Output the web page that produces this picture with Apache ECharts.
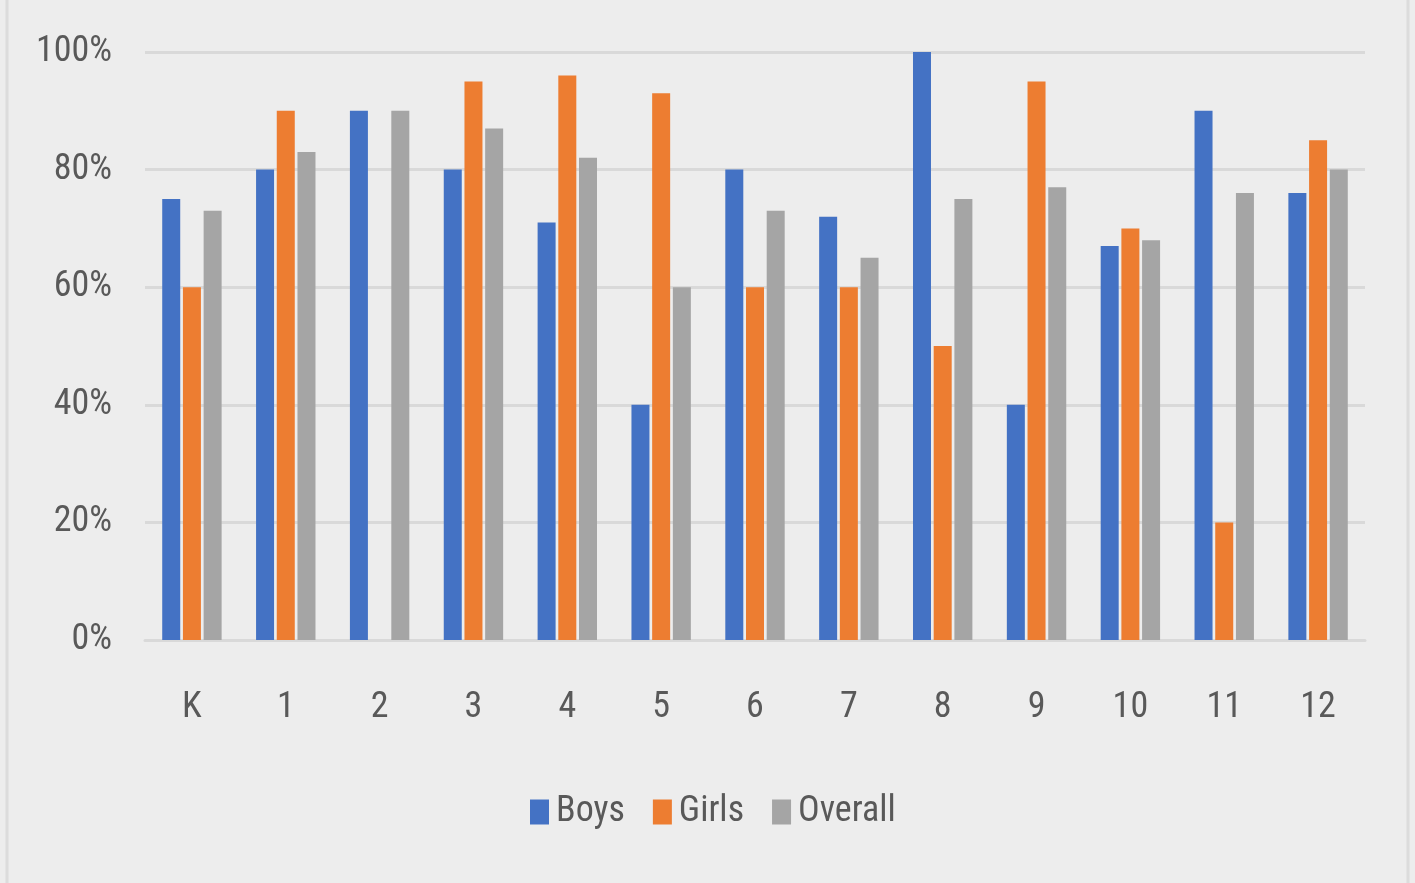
<!DOCTYPE html>
<html>
<head>
<meta charset="utf-8">
<script src="https://cdn.jsdelivr.net/npm/echarts@6/dist/echarts.min.js"></script>
<style>
  html, body { margin: 0; padding: 0; background: #ededed; }
  #chart { width: 1415px; height: 883px; }
</style>
</head>
<body>
<div id="chart"></div>
<script>
const grades = ["K", "1", "2", "3", "4", "5", "6", "7", "8", "9", "10", "11", "12"];
const boys = [75, 80, 90, 80, 71, 40, 80, 72, 100, 40, 67, 90, 76];
const girls = [60, 90, 0, 95, 96, 93, 60, 60, 50, 95, 70, 20, 85];
const overall = [73, 83, 90, 87, 82, 60, 73, 65, 75, 77, 68, 76, 80];

const font = '"Liberation Sans Narrow", "Roboto Condensed", "DejaVu Sans Condensed", sans-serif';

let chart = echarts.init(document.getElementById("chart"));
chart.setOption({
  backgroundColor: "#ededed",
  textStyle: { fontFamily: font },
  graphic: [
    {
      // image frame
      type: "rect",
      shape: { x: 7, y: -2, width: 1401, height: 887 },
      style: { fill: "none", stroke: "#dcdcdc", lineWidth: 3 }
    }
  ],
  legend: {
    bottom: 48,
    left: 525,
    icon: "rect",
    itemWidth: 19,
    itemHeight: 25,
    itemGap: 28,
    textStyle: { fontFamily: font, fontSize: 36, color: "#595959", padding: [0, 0, 0, 2] },
    data: ["Boys", "Girls", "Overall"]
  },
  grid: { left: 145, right: 50, top: 52, bottom: 243 },
  xAxis: {
    type: "category",
    data: grades,
    axisLine: { lineStyle: { color: "#d9d9d9", width: 3 } },
    axisTick: { show: false },
    axisLabel: { fontFamily: font, fontSize: 36, color: "#595959", margin: 50 }
  },
  yAxis: {
    type: "value",
    min: 0,
    max: 100,
    interval: 20,
    axisLine: { show: false },
    axisTick: { show: false },
    splitLine: { lineStyle: { color: "#d9d9d9", width: 3 } },
    axisLabel: { fontFamily: font, fontSize: 36, color: "#595959", margin: 33, formatter: "{value}%" }
  },
  series: [
    { name: "Boys", type: "bar", data: boys, barWidth: 18, barGap: "15%", itemStyle: { color: "#4472c4" } },
    { name: "Girls", type: "bar", data: girls, barWidth: 18, barGap: "15%", itemStyle: { color: "#ed7d31" } },
    { name: "Overall", type: "bar", data: overall, barWidth: 18, barGap: "15%", itemStyle: { color: "#a5a5a5" } }
  ]
});
</script>
</body>
</html>
